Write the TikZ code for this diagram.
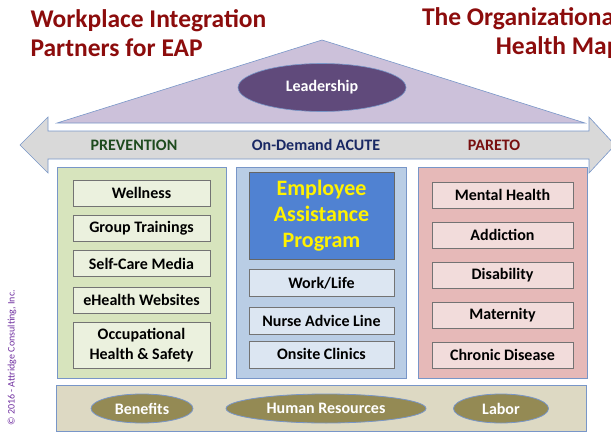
\documentclass[tikz,border=0pt]{standalone}
\usepackage{fontspec}
\setmainfont{Carlito}
\usetikzlibrary{shapes.geometric, positioning}
\definecolor{titlecolor}{RGB}{140,12,12}
\definecolor{roofcolor}{RGB}{204,193,218}
\definecolor{edgecolor}{RGB}{120,150,200}
\definecolor{leadercolor}{RGB}{96,74,123}
\definecolor{arrowcolor}{RGB}{217,217,217}
\definecolor{preventioncolor}{RGB}{215,228,189}
\definecolor{preventionitem}{RGB}{235,241,222}
\definecolor{preventiontext}{RGB}{30,75,30}
\definecolor{acutecolor}{RGB}{185,205,229}
\definecolor{acuteitem}{RGB}{220,230,242}
\definecolor{acutetext}{RGB}{25,40,100}
\definecolor{eapcolor}{RGB}{80,130,210}
\definecolor{paretocolor}{RGB}{230,185,184}
\definecolor{paretoitem}{RGB}{242,220,219}
\definecolor{paretotext}{RGB}{120,15,15}
\definecolor{basecolor}{RGB}{221,217,195}
\definecolor{ovalcolor}{RGB}{148,138,84}
\definecolor{copycolor}{RGB}{112,48,160}

\tikzset{
  panel/.style={draw=edgecolor, line width=0.6pt, inner sep=0pt},
  item/.style={draw=black!55, line width=0.6pt, inner sep=0pt, minimum height=26pt,
    font=\bfseries\fontsize{16}{20}\selectfont, align=center},
  oval/.style={ellipse, fill=ovalcolor, draw=edgecolor, line width=0.8pt, text=white,
    minimum height=29pt, inner sep=0pt, font=\bfseries\fontsize{16}{18}\selectfont},
  heading/.style={font=\bfseries\fontsize{16}{18}\selectfont},
}

\begin{document}
\begin{tikzpicture}[x=1pt, y=-1pt]
\useasboundingbox[clip] (0,0) rectangle (611,434);

% Titles
\node[anchor=west, align=left, text=titlecolor, font=\bfseries\fontsize{25.5}{29}\selectfont]
  (title-left) at (27,33) {Workplace Integration\\Partners for EAP};
\node[anchor=east, align=right, text=titlecolor, font=\bfseries\fontsize{25.5}{29}\selectfont]
  (title-right) at (624,33) {The Organizational\\Health Map};

% Roof
\draw[fill=roofcolor, draw=edgecolor, line width=0.6pt] (57,123) -- (322,40) -- (585,123) -- cycle;
\node[ellipse, fill=leadercolor, draw=edgecolor, line width=0.6pt, text=white,
  minimum width=168pt, minimum height=48pt, inner sep=0pt,
  font=\bfseries\fontsize{16}{18}\selectfont] (leader) at (322,87.5) {Leadership};

% Double arrow
\draw[fill=arrowcolor, draw=edgecolor, line width=0.6pt]
  (20,145) -- (48,117) -- (48,131) -- (589,131) -- (589,117) -- (615,145)
  -- (589,173) -- (589,159) -- (48,159) -- (48,173) -- cycle;
\node[heading, text=preventiontext] (head-1) at (134,145) {PREVENTION};
\node[heading, text=acutetext] (head-2) at (316,145) {On-Demand ACUTE};
\node[heading, text=paretotext] (head-3) at (494,145) {PARETO};

% Panels
\node[panel, fill=preventioncolor, minimum width=169pt, minimum height=211pt] (prev) at (141.5,272.5) {};
\node[panel, fill=acutecolor, minimum width=170pt, minimum height=211pt] (acute) at (321,272.5) {};
\node[panel, fill=paretocolor, minimum width=169pt, minimum height=211pt] (pareto) at (502.5,272.5) {};

% Prevention
\node[item, fill=preventionitem, minimum width=137pt] (prev-1) at (141.5,193) {Wellness};
\node[item, fill=preventionitem, minimum width=137pt, below=8.5pt of prev-1] (prev-2) {Group Trainings};
\node[item, fill=preventionitem, minimum width=137pt, below=9pt of prev-2] (prev-3) {Self-Care Media};
\node[item, fill=preventionitem, minimum width=137pt, below=9.5pt of prev-3] (prev-4) {eHealth Websites};
\node[item, fill=preventionitem, minimum width=137pt, minimum height=46pt, below=8.5pt of prev-4] (prev-5)
  {Occupational\\Health \& Safety};

% On-demand acute
\node[draw=black!60, line width=0.6pt, fill=eapcolor, text=yellow, minimum width=145pt, minimum height=87pt,
  inner sep=0pt, align=center, font=\bfseries\fontsize{22}{26}\selectfont] (eap) at (321.5,215.5)
  {Employee\\Assistance\\Program};
\node[item, fill=acuteitem, minimum width=145pt, minimum height=27pt, below=10pt of eap] (acute-1) {Work/Life};
\node[item, fill=acuteitem, minimum width=145pt, minimum height=27pt, below=10pt of acute-1] (acute-2) {Nurse Advice Line};
\node[item, fill=acuteitem, minimum width=145pt, minimum height=27pt, below=6pt of acute-2] (acute-3) {Onsite Clinics};

% Pareto
\node[item, fill=paretoitem, minimum width=141pt] (pareto-1) at (502.5,195) {Mental Health};
\node[item, fill=paretoitem, minimum width=141pt, below=13.5pt of pareto-1] (pareto-2) {Addiction};
\node[item, fill=paretoitem, minimum width=141pt, below=13.5pt of pareto-2] (pareto-3) {Disability};
\node[item, fill=paretoitem, minimum width=141pt, below=13.5pt of pareto-3] (pareto-4) {Maternity};
\node[item, fill=paretoitem, minimum width=141pt, below=13.5pt of pareto-4] (pareto-5) {Chronic Disease};

% Foundation
\node[panel, fill=basecolor, minimum width=530pt, minimum height=46pt] (base) at (321.5,408) {};
\node[oval, minimum width=102pt] (benefits) at (142,408.5) {Benefits};
\node[oval, minimum width=200pt] (hr) at (326,408.5) {Human Resources};
\node[oval, minimum width=95pt] (labor) at (501,408.5) {Labor};

\node[rotate=90, anchor=west, text=copycolor, font=\fontsize{10}{12}\selectfont] (copy) at (12,429)
  {© 2016 - Attridge Consulting, Inc.};

\end{tikzpicture}
\end{document}
